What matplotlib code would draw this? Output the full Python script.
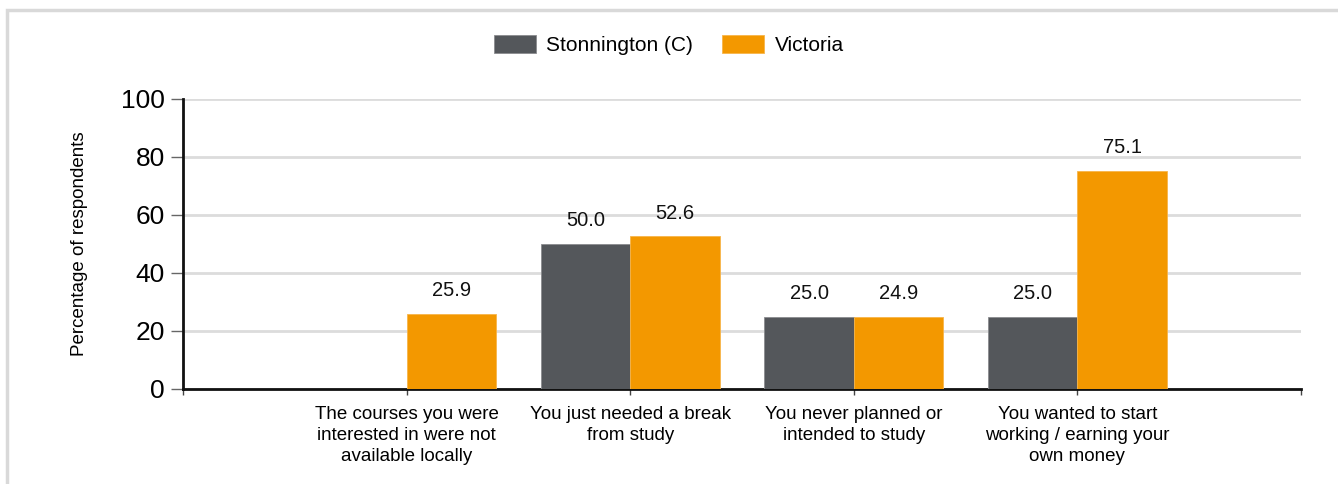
import numpy as np
import matplotlib
matplotlib.use('Agg')
from matplotlib import pyplot as plt
from matplotlib.patches import Rectangle

plt.rcParams['font.family'] = ['Liberation Sans', 'DejaVu Sans']

categories = ['The courses you were\ninterested in were not\navailable locally',
              'You just needed a break\nfrom study',
              'You never planned or\nintended to study',
              'You wanted to start\nworking / earning your\nown money']
stonnington = [np.nan, 50.0, 25.0, 25.0]
victoria = [25.9, 52.6, 24.9, 75.1]
series_names = ['Stonnington (C)', 'Victoria']
yticks = [0, 20, 40, 60, 80, 100]

c_stn = '#54575b'
c_vic = '#f39800'

fig = plt.figure(figsize=(13.38, 4.84), dpi=100)
ax = fig.add_axes([183/1338, 95/484, 1118/1338, 290/484])

# light frame round the chart, clipped at right/bottom like the original
fig.patches.append(Rectangle((7/1338, -0.1), 1.2, (474/484) + 0.1, transform=fig.transFigure,
                             fill=False, edgecolor='#d9d9d9', linewidth=2.5))

x = np.arange(len(categories))
w = 0.4
b1 = ax.bar(x - w/2, stonnington, w, color=c_stn, edgecolor='#8a8c8f', linewidth=0.6,
            label=series_names[0], zorder=3)
b2 = ax.bar(x + w/2, victoria, w, color=c_vic, edgecolor='#f7b54a', linewidth=0.6,
            label=series_names[1], zorder=3)

for bars, vals in [(b1, stonnington), (b2, victoria)]:
    for rect, v in zip(bars, vals):
        if np.isnan(v):
            continue
        ax.annotate(f'{v:.1f}', (rect.get_x() + rect.get_width()/2, v),
                    xytext=(0, 10), textcoords='offset points',
                    ha='center', va='bottom', fontsize=14.5, color='#111111')

ax.set_xlim(-1, 4)
ax.set_ylim(0, 100)
ax.set_yticks(yticks)
ax.set_yticklabels([str(t) for t in yticks], fontsize=19)
ax.set_xticks(np.arange(-1, 5))
ax.set_xticklabels([''] + categories + [''], fontsize=13.5, linespacing=1.32)
ax.tick_params(axis='y', length=9, width=1, color='#666666', pad=4)
ax.tick_params(axis='x', length=4, width=1, color='#444444', pad=8)

ax.grid(axis='y', color='#dcdcdc', linewidth=2, zorder=0)
ax.set_axisbelow(True)
for s in ['top', 'right']:
    ax.spines[s].set_visible(False)
for s in ['left', 'bottom']:
    ax.spines[s].set_linewidth(2)
    ax.spines[s].set_color('#111111')

ax.set_ylabel('Percentage of respondents', fontsize=13.5, labelpad=24)

fig.legend(handles=[b1, b2], labels=series_names, loc='center', bbox_to_anchor=(0.5, 1 - 45/484),
           ncol=2, frameon=False, fontsize=15, handlelength=2.0, handleheight=1.0,
           columnspacing=1.4, handletextpad=0.5)

plt.savefig('out.png', dpi=100)
